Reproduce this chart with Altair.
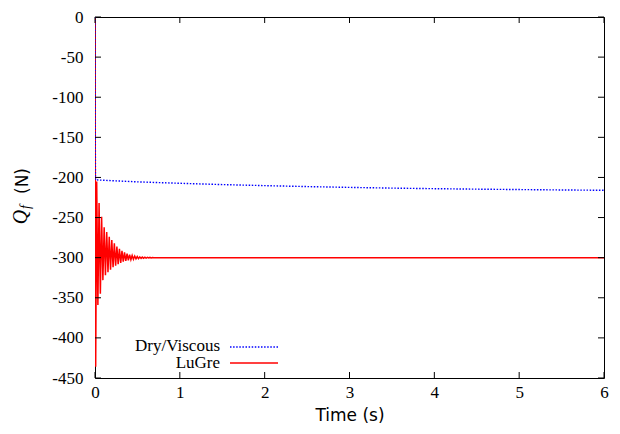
import altair as alt
import pandas as pd

# ---- data ----
x_ticks = [0, 1, 2, 3, 4, 5, 6]
y_ticks = [0, -50, -100, -150, -200, -250, -300, -350, -400, -450]

series_names = ["Dry/Viscous", "LuGre"]
series_colors = ["#0000ff", "#ff0000"]

dry_t = [0.0, 0.005, 0.25, 0.5, 1.0, 1.5, 2.0, 2.5, 3.0, 3.5, 4.0, 4.5, 5.0, 5.5, 6.0]
dry_q = [0.0, -203.0, -204.3, -205.5, -207.3, -208.9, -210.2, -211.4, -212.4,
         -213.3, -214.0, -214.6, -215.1, -215.6, -216.0]

lugre_t = [0.0, 0.008, 0.020, 0.034, 0.048, 0.063, 0.078, 0.093, 0.108, 0.123,
           0.138, 0.153, 0.168, 0.183, 0.198, 0.213, 0.228, 0.243, 0.258, 0.273,
           0.288, 0.303, 0.318, 0.333, 0.348, 0.363, 0.378, 0.393, 0.408, 0.423,
           0.438, 0.453, 0.468, 0.483, 0.498, 0.513, 0.528, 0.543, 0.558, 0.573,
           0.588, 0.603, 0.618, 0.633, 0.648, 0.663, 0.678, 0.693, 0.72, 6.0]
lugre_q = [0.0, -436.0, -205.0, -359.0, -232.0, -345.0, -249.0, -328.0, -262.0, -322.0,
           -268.0, -318.0, -274.0, -315.0, -278.0, -312.0, -282.0, -310.0, -286.0, -308.0,
           -289.0, -306.5, -291.5, -305.0, -293.5, -304.0, -295.0, -303.2, -296.2, -302.6,
           -297.2, -302.0, -298.0, -301.5, -298.6, -301.2, -299.0, -300.9, -299.3, -300.7,
           -299.5, -300.5, -299.6, -300.4, -299.7, -300.3, -299.8, -300.2, -300.0, -300.0]

# ---- styling ----
W, H = 509, 361
SERIF = "Liberation Serif"
SANS = "DejaVu Sans"

xs = alt.Scale(domain=[0, 6], nice=False, zero=False)
ys = alt.Scale(domain=[-450, 0], nice=False, zero=False)

x_axis = alt.Axis(values=x_ticks, labelPadding=6, title="Time (s)", titlePadding=7,
                  titleFont=SANS, titleFontSize=17)
y_axis = alt.Axis(values=y_ticks, labelPadding=12, title=None)

dry_df = pd.DataFrame({"t": dry_t, "q": dry_q})
lugre_df = pd.DataFrame({"t": lugre_t, "q": lugre_q})
xt_df = pd.DataFrame({"t": x_ticks})
yt_df = pd.DataFrame({"q": y_ticks})

base_x = alt.X("t:Q", scale=xs, axis=x_axis)
base_y = alt.Y("q:Q", scale=ys, axis=y_axis)

lugre_line = alt.Chart(lugre_df).mark_line(
    color=series_colors[1], strokeWidth=1.5, clip=True
).encode(x=base_x, y=base_y)

dry_line = alt.Chart(dry_df).mark_line(
    color=series_colors[0], strokeWidth=1.4, strokeDash=[1.5, 1.6], clip=True
).encode(x=base_x, y=base_y)

TL = 6
tick_left = alt.Chart(yt_df).mark_rule(color="black", strokeWidth=1).encode(
    y=base_y, x=alt.value(0), x2=alt.value(TL))
tick_right = alt.Chart(yt_df).mark_rule(color="black", strokeWidth=1).encode(
    y=base_y, x=alt.value(W - TL), x2=alt.value(W))
tick_bottom = alt.Chart(xt_df).mark_rule(color="black", strokeWidth=1).encode(
    x=base_x, y=alt.value(H - TL), y2=alt.value(H))
tick_top = alt.Chart(xt_df).mark_rule(color="black", strokeWidth=1).encode(
    x=base_x, y=alt.value(0), y2=alt.value(TL))

# y-axis title: Q_f (N), rotated
q_txt = alt.Chart().mark_text(text="Q", font=SERIF, fontStyle="italic", fontSize=20,
                              angle=270, align="center", baseline="middle",
                              color="black").encode(x=alt.value(-74), y=alt.value(200))
f_txt = alt.Chart().mark_text(text="f", font=SERIF, fontStyle="italic", fontSize=14,
                              angle=270, align="center", baseline="middle",
                              color="black").encode(x=alt.value(-69), y=alt.value(190))
n_txt = alt.Chart().mark_text(text="(N)", font=SANS, fontSize=17,
                              angle=270, align="center", baseline="middle",
                              color="black").encode(x=alt.value(-72), y=alt.value(164))

# legend (labels left of samples, gnuplot style)
leg_dry_txt = alt.Chart().mark_text(text=series_names[0], font=SERIF, fontSize=17,
                                    align="right", baseline="middle", color="black"
                                    ).encode(x=alt.value(125), y=alt.value(329))
leg_lug_txt = alt.Chart().mark_text(text=series_names[1], font=SERIF, fontSize=17,
                                    align="right", baseline="middle", color="black"
                                    ).encode(x=alt.value(125), y=alt.value(346))
leg_dry_line = alt.Chart().mark_rule(color=series_colors[0], strokeWidth=1.4,
                                     strokeDash=[1.5, 1.6]
                                     ).encode(x=alt.value(135), x2=alt.value(183), y=alt.value(330))
leg_lug_line = alt.Chart().mark_rule(color=series_colors[1], strokeWidth=1.5
                                     ).encode(x=alt.value(135), x2=alt.value(183), y=alt.value(346))

chart = alt.layer(
    lugre_line, dry_line, tick_left, tick_right, tick_bottom, tick_top,
    q_txt, f_txt, n_txt, leg_dry_txt, leg_lug_txt, leg_dry_line, leg_lug_line
).properties(
    width=W, height=H,
    autosize=alt.AutoSizeParams(type="none"),
    padding={"left": 87, "top": 9, "right": 8, "bottom": 48},
    background="white",
).configure_view(stroke="black", strokeWidth=1
).configure_axis(
    ticks=False, domain=False, grid=False,
    labelFont=SERIF, labelFontSize=17, labelColor="black", labelFlush=False,
    labelExpr="'' + datum.value",
    titleFont=SANS, titleFontSize=17, titleFontWeight="normal", titleColor="black",
)

chart.save("out.html", embed_options={"renderer": "svg", "actions": False})
